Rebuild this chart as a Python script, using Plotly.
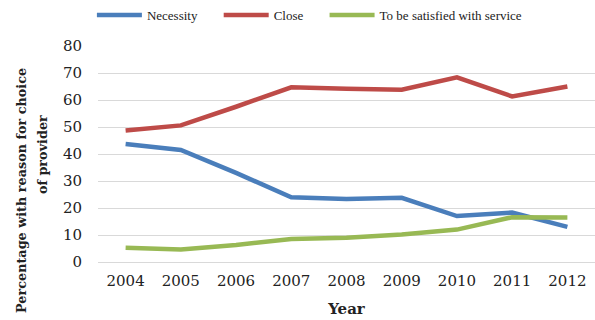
import plotly.graph_objects as go

years = [2004, 2005, 2006, 2007, 2008, 2009, 2010, 2011, 2012]
necessity = [43.7, 41.5, 33.0, 24.0, 23.3, 23.8, 17.0, 18.3, 13.0]
close = [48.7, 50.6, 57.5, 64.7, 64.2, 63.8, 68.4, 61.3, 65.0]
satisfied = [5.3, 4.6, 6.3, 8.5, 9.0, 10.2, 12.0, 16.6, 16.5]
y_ticks = [0, 10, 20, 30, 40, 50, 60, 70, 80]
y_title_lines = ["Percentage with reason for choice", "of provider"]

# Legend labels padded with non-breaking spaces to widen the gaps between entries
pad = "\u00a0" * 5
series = [
    ("Necessity" + pad, necessity, "#4A7EBB"),
    ("Close" + pad, close, "#BE4B48"),
    ("To be satisfied with service", satisfied, "#98B954"),
]

fig = go.Figure()
for name, vals, color in series:
    fig.add_trace(go.Scatter(
        x=years, y=vals, name=name, mode="lines",
        line=dict(color=color, width=4.5),
    ))

# Two-line vertical axis title, drawn as separate rotated labels
for text, xshift, ypos, yshift in [(y_title_lines[0], -76, 0.366, -8),
                                   (y_title_lines[1], -56, 0.495, 0)]:
    fig.add_annotation(
        text=f"<b>{text}</b>", textangle=-90, showarrow=False,
        xref="paper", yref="paper", x=0, y=ypos, xanchor="center", yanchor="middle",
        xshift=xshift, yshift=yshift,
        font=dict(size=12.8, family="DejaVu Serif", color="#222"),
    )

fig.update_layout(
    width=595, height=320,
    margin=dict(l=98, r=0, t=46, b=58),
    paper_bgcolor="white", plot_bgcolor="white",
    font=dict(family="DejaVu Serif", color="#222"),
    legend=dict(
        orientation="h", x=0.52, xanchor="center", y=1.0, yanchor="top",
        yref="container", xref="container",
        font=dict(family="Liberation Serif", size=13, color="#222"),
        itemwidth=45, tracegroupgap=0,
    ),
    xaxis=dict(
        range=[2003.5, 2012.5], tickvals=years, showgrid=False, showline=False,
        ticks="", ticklabelstandoff=8,
        tickfont=dict(size=15, family="DejaVu Serif"),
        title=dict(text="<b>Year</b>", font=dict(size=15, family="DejaVu Serif"), standoff=14),
    ),
    yaxis=dict(
        range=[0, 80], tickvals=y_ticks, showgrid=True, gridcolor="#D9D9D9",
        gridwidth=1.3, zeroline=True, zerolinecolor="#D9D9D9", zerolinewidth=1.3,
        tickfont=dict(size=15, family="DejaVu Serif"), ticks="", ticklabelstandoff=15,
    ),
)

fig.write_html("out.html")
